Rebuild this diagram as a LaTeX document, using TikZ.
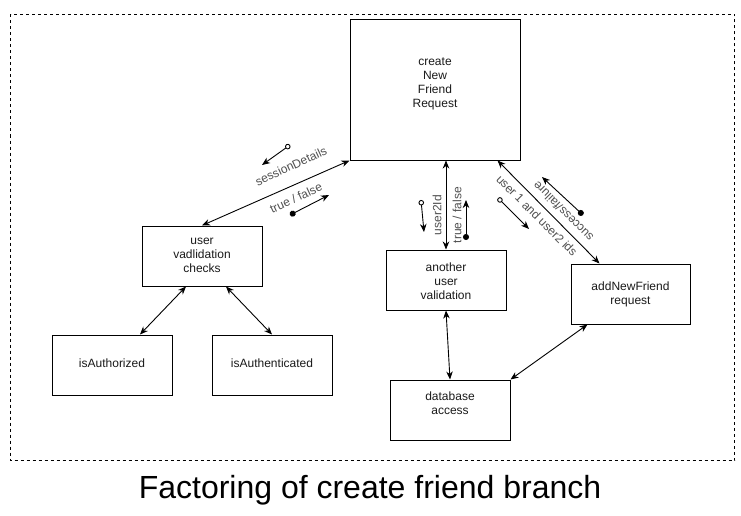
\documentclass[tikz,border=0pt]{standalone}
\usepackage{fontspec}
\setmainfont{Liberation Sans}
\usetikzlibrary{arrows.meta}
\definecolor{txt}{HTML}{1A1A1A}
\definecolor{lbl}{HTML}{505050}
\newcommand{\boxlines}[2]{\raisebox{#1}[\height][\depth]{\begin{tabular}{@{}c@{}}#2\end{tabular}}}
\begin{document}
\begin{tikzpicture}[x=1pt,y=-1pt,
  box/.style={draw=black,line width=1pt,fill=white,inner sep=0pt,
    font=\fontsize{12}{14}\selectfont,text=txt,
    minimum width=120pt,minimum height=60pt},
  dbl/.style={line width=0.9pt,
    {Stealth[length=8pt,width=6.5pt,inset=2.5pt]}-{Stealth[length=8pt,width=6.5pt,inset=2.5pt]}},
  msgopen/.style={line width=0.9pt,
    {Circle[open,length=5.5pt,width=5.5pt,fill=white]}-{Stealth[length=8pt,width=6.5pt,inset=2.5pt]}},
  msgdot/.style={line width=0.9pt,
    {Circle[length=6pt,width=6pt]}-{Stealth[length=8pt,width=6.5pt,inset=2.5pt]}},
  edgelbl/.style={inner sep=0pt,font=\fontsize{12}{14}\selectfont,text=lbl},
]
\useasboundingbox (0,0) rectangle (741,516);
\fill[white] (0,0) rectangle (741,516);

% container frame
\draw[line width=0.8pt,dash pattern=on 3pt off 3pt] (10.5,14.5) rectangle (734.5,460.5);

% boxes
\node[box,minimum width=170pt,minimum height=140pt] (create) at (435,90)
  {\boxlines{6.5pt}{create\\New\\Friend\\Request}};
\node[box] (user) at (202,256) {\boxlines{0pt}{user\\vadlidation\\checks}};
\node[box] (isAuthorized) at (112,365) {\boxlines{0pt}{isAuthorized}};
\node[box] (isAuthenticated) at (272,365) {\boxlines{0pt}{isAuthenticated}};
\node[box] (another) at (446,280) {\boxlines{-3pt}{another\\user\\validation}};
\node[box,minimum width=119pt] (addfriend) at (630.5,294) {\boxlines{-1pt}{addNewFriend\\request}};
\node[box] (database) at (450,410) {\boxlines{5pt}{database\\access}};

% connectors
\draw[dbl] (user.north) -- (create.south west);
\draw[dbl] (another.north |- create.south) -- (another.north);
\draw[dbl] ([xshift=-23pt]create.south east) -- ([xshift=29pt]addfriend.north west);
\draw[dbl] ([xshift=-16pt]user.south) -- ([xshift=28pt]isAuthorized.north);
\draw[dbl] ([xshift=24pt]user.south) -- (isAuthenticated.north);
\draw[dbl] (another.south) -- (database.north);
\draw[dbl] ([xshift=-43pt]addfriend.south) -- (database.north east);

% labels
\node[edgelbl,rotate=25] (lblSession) at (291,166) {sessionDetails};
\node[edgelbl,rotate=25] (lblTF1) at (296,198) {true / false};
\node[edgelbl,rotate=90] (lblUser2Id) at (437,215) {user2Id};
\node[edgelbl,rotate=90] (lblTF2) at (457,215) {true / false};
\node[edgelbl,rotate=-45] (lblIds) at (537,215.5) {user 1 and user2 ids};
\node[edgelbl,rotate=135] (lblSF) at (563,211.5) {success/failure};

% message arrows
\coordinate (m1s) at (290,145); \coordinate (m1e) at (262,165);
\coordinate (m2s) at (290,215); \coordinate (m2e) at (329,195);
\coordinate (m3s) at (421,200); \coordinate (m3e) at (424,232);
\coordinate (m4s) at (466,240); \coordinate (m4e) at (466,200);
\coordinate (m5s) at (498,198); \coordinate (m5e) at (529,229);
\coordinate (m6s) at (583,215); \coordinate (m6e) at (542,177);
\draw[msgopen] (m1s) -- (m1e);
\draw[msgdot] (m2s) -- (m2e);
\draw[msgopen] (m3s) -- (m3e);
\draw[msgdot] (m4s) -- (m4e);
\draw[msgopen] (m5s) -- (m5e);
\draw[msgdot] (m6s) -- (m6e);

% title
\node[inner sep=0pt,anchor=base,font=\fontsize{32}{38}\selectfont] (title) at (370,498)
  {Factoring of create friend branch};
\end{tikzpicture}
\end{document}
